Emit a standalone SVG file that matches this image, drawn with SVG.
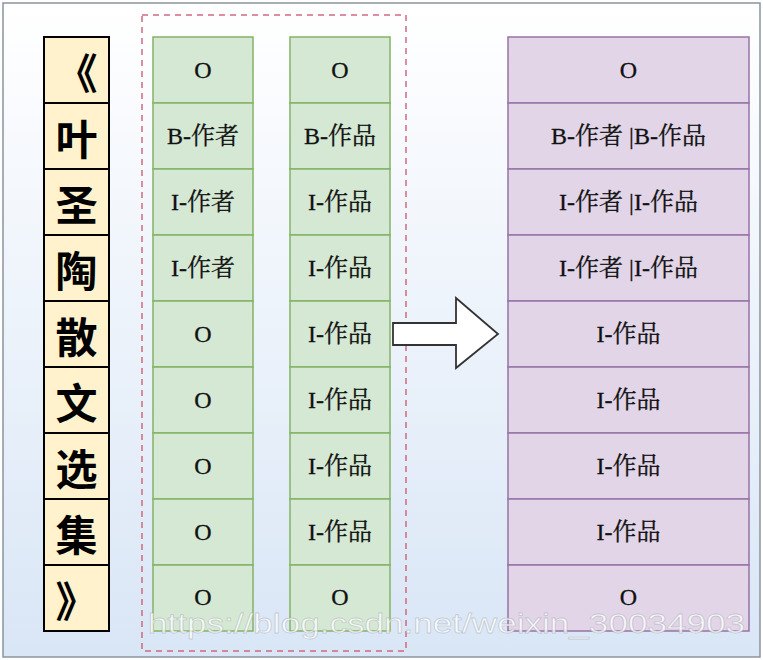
<svg xmlns="http://www.w3.org/2000/svg" width="763" height="660" viewBox="0 0 763 660">
<defs>
<linearGradient id="bg" x1="0" y1="0" x2="0" y2="1">
<stop offset="0" stop-color="#ffffff"/>
<stop offset="1" stop-color="#d9e6f6"/>
</linearGradient>
<style>
.t{fill:#fff2cc;stroke:#000;stroke-width:2}
.tt{font-family:"Noto Sans CJK SC","Noto Sans",sans-serif;font-weight:bold;font-size:42px;fill:#000;text-anchor:middle;dominant-baseline:central}
.g{fill:#d5e8d4;stroke:#82b366;stroke-width:1.5}
.p{fill:#e1d5e7;stroke:#9673a6;stroke-width:1.5}
.l{font-family:"Liberation Serif","Noto Serif CJK SC","Noto Sans CJK SC",serif;font-size:24px;fill:#111;stroke:#111;stroke-width:0.3;text-anchor:middle;dominant-baseline:central}
</style>
</defs>
<rect x="3" y="3" width="757" height="654" fill="url(#bg)" stroke="#8a949e" stroke-width="1.5"/>
<rect id="group" x="142" y="15" width="264" height="636" fill="none" stroke="#d06a7e" stroke-width="1.5" stroke-dasharray="6,5"/>
<g id="title">
<rect class="t" x="44" y="37" width="65" height="66"/><text class="tt" x="76.5" y="70">《</text>
<rect class="t" x="44" y="103" width="65" height="66"/><text class="tt" x="76.5" y="136">叶</text>
<rect class="t" x="44" y="169" width="65" height="66"/><text class="tt" x="76.5" y="202">圣</text>
<rect class="t" x="44" y="235" width="65" height="66"/><text class="tt" x="76.5" y="268">陶</text>
<rect class="t" x="44" y="301" width="65" height="66"/><text class="tt" x="76.5" y="334">散</text>
<rect class="t" x="44" y="367" width="65" height="66"/><text class="tt" x="76.5" y="400">文</text>
<rect class="t" x="44" y="433" width="65" height="66"/><text class="tt" x="76.5" y="466">选</text>
<rect class="t" x="44" y="499" width="65" height="66"/><text class="tt" x="76.5" y="532">集</text>
<rect class="t" x="44" y="565" width="65" height="66"/><text class="tt" x="76.5" y="598">》</text>
</g>
<g id="col1">
<rect class="g" x="153" y="37" width="100" height="66"/><text class="l" x="203" y="70">O</text>
<rect class="g" x="153" y="103" width="100" height="66"/><text class="l" x="203" y="136">B-作者</text>
<rect class="g" x="153" y="169" width="100" height="66"/><text class="l" x="203" y="202">I-作者</text>
<rect class="g" x="153" y="235" width="100" height="66"/><text class="l" x="203" y="268">I-作者</text>
<rect class="g" x="153" y="301" width="100" height="66"/><text class="l" x="203" y="334">O</text>
<rect class="g" x="153" y="367" width="100" height="66"/><text class="l" x="203" y="400">O</text>
<rect class="g" x="153" y="433" width="100" height="66"/><text class="l" x="203" y="466">O</text>
<rect class="g" x="153" y="499" width="100" height="66"/><text class="l" x="203" y="532">O</text>
<rect class="g" x="153" y="565" width="100" height="66"/><text class="l" x="203" y="597">O</text>
</g>
<g id="col2">
<rect class="g" x="290" y="37" width="100" height="66"/><text class="l" x="340" y="70">O</text>
<rect class="g" x="290" y="103" width="100" height="66"/><text class="l" x="340" y="136">B-作品</text>
<rect class="g" x="290" y="169" width="100" height="66"/><text class="l" x="340" y="202">I-作品</text>
<rect class="g" x="290" y="235" width="100" height="66"/><text class="l" x="340" y="268">I-作品</text>
<rect class="g" x="290" y="301" width="100" height="66"/><text class="l" x="340" y="334">I-作品</text>
<rect class="g" x="290" y="367" width="100" height="66"/><text class="l" x="340" y="400">I-作品</text>
<rect class="g" x="290" y="433" width="100" height="66"/><text class="l" x="340" y="466">I-作品</text>
<rect class="g" x="290" y="499" width="100" height="66"/><text class="l" x="340" y="532">I-作品</text>
<rect class="g" x="290" y="565" width="100" height="66"/><text class="l" x="340" y="597">O</text>
</g>
<g id="connectors">
<path d="M393,323 L456,323 L456,298 L498,334 L456,368 L456,345 L393,345 Z" fill="#fff" stroke="#333" stroke-width="1.8" stroke-linejoin="miter"/>
</g>
<g id="result">
<rect class="p" x="508" y="37" width="241" height="66"/><text class="l" x="628.5" y="70">O</text>
<rect class="p" x="508" y="103" width="241" height="66"/><text class="l" x="628.5" y="136">B-作者 |B-作品</text>
<rect class="p" x="508" y="169" width="241" height="66"/><text class="l" x="628.5" y="202">I-作者 |I-作品</text>
<rect class="p" x="508" y="235" width="241" height="66"/><text class="l" x="628.5" y="268">I-作者 |I-作品</text>
<rect class="p" x="508" y="301" width="241" height="66"/><text class="l" x="628.5" y="334">I-作品</text>
<rect class="p" x="508" y="367" width="241" height="66"/><text class="l" x="628.5" y="400">I-作品</text>
<rect class="p" x="508" y="433" width="241" height="66"/><text class="l" x="628.5" y="466">I-作品</text>
<rect class="p" x="508" y="499" width="241" height="66"/><text class="l" x="628.5" y="532">I-作品</text>
<rect class="p" x="508" y="565" width="241" height="66"/><text class="l" x="628.5" y="597">O</text>
</g>
<text x="148" y="633" textLength="597" lengthAdjust="spacingAndGlyphs" font-family="Liberation Sans,sans-serif" font-size="28" fill="#ffffff" fill-opacity="0.75" stroke="#9aa0a8" stroke-opacity="0.45" stroke-width="0.8">https://blog.csdn.net/weixin_30034903</text>
</svg>
